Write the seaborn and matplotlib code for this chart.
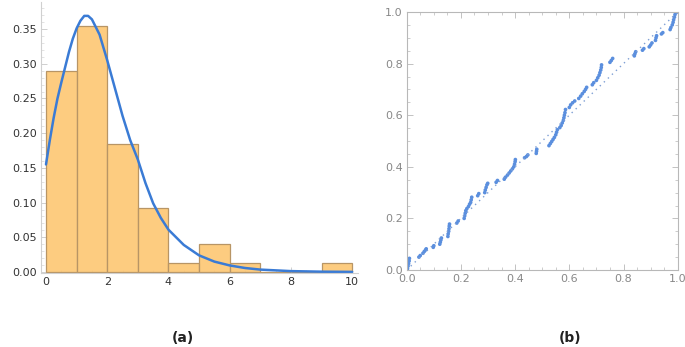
import numpy as np
import pandas as pd
import seaborn as sns
import matplotlib.pyplot as plt
from matplotlib.ticker import MultipleLocator

sns.set_style("white")
plt.rcParams['font.family'] = ['DejaVu Sans']

# histogram (a): bins of width 1, density per bin
bin_edges = [0, 1, 2, 3, 4, 5, 6, 7, 8, 9, 10]
bin_density = [0.29, 0.355, 0.185, 0.092, 0.013, 0.04, 0.013, 0.0, 0.0, 0.013]

# fitted pdf
curve_x = [0, 0.125, 0.25, 0.375, 0.5, 0.625, 0.75, 0.875, 1.0, 1.125, 1.25, 1.375, 1.5,
           1.75, 2.0, 2.25, 2.5, 2.75, 3.0, 3.25, 3.5, 3.75, 4.0, 4.5, 5.0, 5.5, 6.0,
           6.5, 7.0, 8.0, 9.0, 10.0]
curve_y = [0.155, 0.19, 0.222, 0.25, 0.273, 0.295, 0.317, 0.336, 0.351, 0.362, 0.369, 0.369, 0.364,
           0.342, 0.305, 0.265, 0.225, 0.19, 0.162, 0.128, 0.099, 0.078, 0.061, 0.039, 0.024, 0.015,
           0.0095, 0.0058, 0.0035, 0.0013, 0.0005, 0.0002]

# P-P plot (b): theoretical vs empirical probabilities
pp_x = [0.003, 0.005, 0.007, 0.009, 0.01,
        0.045, 0.05, 0.06, 0.065, 0.07, 0.072,
        0.098, 0.1,
        0.122, 0.124, 0.126, 0.128,
        0.152, 0.153, 0.155, 0.156, 0.157, 0.158,
        0.185, 0.19,
        0.212, 0.214, 0.216, 0.218, 0.222, 0.228, 0.232, 0.236, 0.238, 0.24,
        0.262, 0.266,
        0.288, 0.29, 0.293, 0.296, 0.299,
        0.33, 0.335,
        0.36, 0.365, 0.372, 0.378, 0.384, 0.39, 0.395, 0.398, 0.4, 0.401,
        0.435, 0.442, 0.447,
        0.478, 0.479, 0.48,
        0.525, 0.53, 0.535, 0.54, 0.545, 0.55, 0.553, 0.556,
        0.565, 0.57, 0.574, 0.578, 0.58, 0.582, 0.584, 0.586,
        0.6, 0.605, 0.612, 0.62,
        0.635, 0.642, 0.648, 0.655, 0.66, 0.664,
        0.685, 0.69,
        0.7, 0.705, 0.71, 0.713, 0.716, 0.718, 0.719,
        0.75, 0.755, 0.76,
        0.84, 0.842, 0.845,
        0.87, 0.875,
        0.895, 0.9, 0.905,
        0.918, 0.92, 0.922,
        0.94, 0.945,
        0.972, 0.975, 0.98, 0.983, 0.985, 0.988, 0.99, 0.995]
pp_y = [0.005, 0.015, 0.025, 0.035, 0.045,
        0.05, 0.056, 0.065, 0.072, 0.078, 0.082,
        0.088, 0.094,
        0.1, 0.108, 0.116, 0.124,
        0.13, 0.14, 0.15, 0.16, 0.17, 0.178,
        0.182, 0.19,
        0.2, 0.21, 0.22, 0.23, 0.238, 0.246, 0.255, 0.262, 0.272, 0.282,
        0.288, 0.296,
        0.3, 0.31, 0.32, 0.33, 0.336,
        0.34, 0.347,
        0.352, 0.36, 0.368, 0.376, 0.384, 0.392, 0.4, 0.41, 0.42, 0.428,
        0.435, 0.44, 0.446,
        0.452, 0.46, 0.468,
        0.482, 0.49, 0.498, 0.506, 0.514, 0.524, 0.534, 0.544,
        0.552, 0.56, 0.57, 0.58, 0.59, 0.6, 0.61, 0.622,
        0.63, 0.64, 0.648, 0.655,
        0.665, 0.674, 0.683, 0.692, 0.7, 0.708,
        0.718, 0.726,
        0.735, 0.745, 0.755, 0.765, 0.775, 0.785, 0.795,
        0.805, 0.812, 0.82,
        0.83, 0.838, 0.846,
        0.852, 0.858,
        0.865, 0.872, 0.88,
        0.89, 0.9, 0.908,
        0.915, 0.92,
        0.932, 0.94, 0.95, 0.96, 0.97, 0.98, 0.99, 0.998]

fig = plt.figure(figsize=(6.85, 3.47), dpi=100)
ax1 = fig.add_axes([41 / 685, 1 - 273 / 347, 317 / 685, 271 / 347])
ax2 = fig.add_axes([406.7 / 685, 1 - 270 / 347, 271 / 685, 258 / 347])

# (a) histogram + pdf
centers = [e + 0.5 for e in bin_edges[:-1]]
sns.histplot(x=centers, weights=bin_density, bins=bin_edges, ax=ax1,
             color='#fdc46a', edgecolor='#b89565', linewidth=0.9, alpha=0.85)
sns.lineplot(x=curve_x, y=curve_y, ax=ax1, color='#3a7bd5', linewidth=1.8)
ax1.set_xlim(-0.163, 10.19)
ax1.set_ylim(-0.0014, 0.389)
ax1.set_xticks([0, 2, 4, 6, 8, 10])
ax1.set_yticks([0, 0.05, 0.1, 0.15, 0.2, 0.25, 0.3, 0.35])
ax1.set_yticklabels(['0.00', '0.05', '0.10', '0.15', '0.20', '0.25', '0.30', '0.35'])
ax1.xaxis.set_minor_locator(MultipleLocator(0.5))
ax1.yaxis.set_minor_locator(MultipleLocator(0.01))
ax1.set_xlabel('')
ax1.set_ylabel('')
for s in ['top', 'right']:
    ax1.spines[s].set_visible(False)
for s in ['left', 'bottom']:
    ax1.spines[s].set_color('#d0d0d0')
    ax1.spines[s].set_linewidth(0.8)
ax1.tick_params(which='major', direction='in', length=4, width=0.6, color='#c8c8c8',
                labelsize=8, labelcolor='#333333', pad=3)
ax1.tick_params(which='minor', direction='in', length=2, width=0.5, color='#d8d8d8')
ax1.tick_params(axis='both', which='both', bottom=True, left=True)

# (b) P-P plot
ax2.plot([0, 1], [0, 1], linestyle=(0, (1, 3)), color='#7f9fd4', linewidth=1.0)
sns.scatterplot(x=pp_x, y=pp_y, ax=ax2, color='#5b8fde', s=7, edgecolor='none')
ax2.set_xlim(0, 1)
ax2.set_ylim(0, 1)
ax2.set_xticks([0, 0.2, 0.4, 0.6, 0.8, 1.0])
ax2.set_yticks([0, 0.2, 0.4, 0.6, 0.8, 1.0])
ax2.xaxis.set_minor_locator(MultipleLocator(0.05))
ax2.yaxis.set_minor_locator(MultipleLocator(0.05))
for s in ax2.spines.values():
    s.set_color('#b8b8b8')
    s.set_linewidth(0.8)
ax2.tick_params(which='both', direction='in', top=True, right=True, bottom=True, left=True,
                color='#b8b8b8')
ax2.tick_params(which='major', length=4, width=0.6, labelsize=8, labelcolor='#888888', pad=3)
ax2.tick_params(which='minor', length=2, width=0.5)

fig.text(183 / 685, 1 - 338 / 347, '(a)', ha='center', va='center', fontsize=10,
         fontweight='bold', color='#222222')
fig.text(570 / 685, 1 - 338 / 347, '(b)', ha='center', va='center', fontsize=10,
         fontweight='bold', color='#222222')

fig.savefig('out.png', dpi=100)
